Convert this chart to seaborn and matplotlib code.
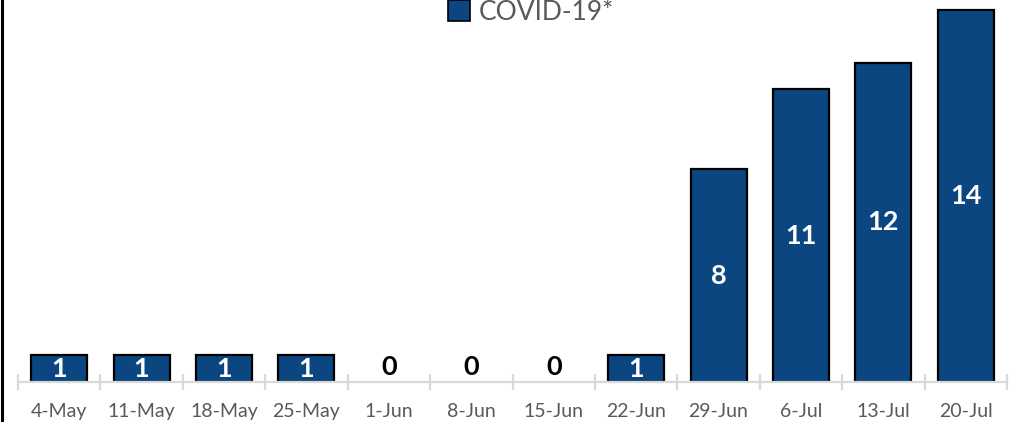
import matplotlib
matplotlib.use("Agg")
import matplotlib.pyplot as plt
from matplotlib.lines import Line2D
from matplotlib.patches import Patch
import seaborn as sns
import pandas as pd
import numpy as np

weeks = ["4-May", "11-May", "18-May", "25-May", "1-Jun", "8-Jun", "15-Jun",
         "22-Jun", "29-Jun", "6-Jul", "13-Jul", "20-Jul"]
covid_counts = [1, 1, 1, 1, 0, 0, 0, 1, 8, 11, 12, 14]
series_name = "COVID-19*"

BAR = "#0B4680"
GRID = "#D9D9D9"
TXT = "#595959"

sns.set_theme(style="white")
plt.rcParams["font.family"] = ["Lato", "DejaVu Sans"]

df = pd.DataFrame({"week": weeks, "count": covid_counts})

fig = plt.figure(figsize=(10.11, 4.22), dpi=100)
ax = fig.add_axes([18 / 1011, 40 / 422, (1007 - 18) / 1011, 382 / 422])

sns.barplot(data=df, x="week", y="count", color=BAR, edgecolor="black",
            linewidth=1.6, width=0.68, saturation=1, ax=ax, order=weeks)

ax.set_xlim(-0.5, len(weeks) - 0.5)
ax.set_ylim(0, 14.36)
ax.set_xlabel("")
ax.set_ylabel("")
ax.set_yticks([])

for s in ["top", "right", "left"]:
    ax.spines[s].set_visible(False)
ax.spines["bottom"].set_color(GRID)
ax.spines["bottom"].set_linewidth(1.6)

ax.tick_params(axis="x", which="major", bottom=True, length=0, pad=15,
               labelsize=14, labelcolor=TXT)
ax.set_xticks(np.arange(-0.5, len(weeks), 1.0), minor=True)
ax.tick_params(axis="x", which="minor", bottom=True, length=12,
               direction="inout", color=GRID, width=1.6)

cont = ax.containers[0]
for patch, v in zip(cont.patches, covid_counts):
    if v == 0:
        patch.set_linewidth(0)
        patch.set_facecolor("none")

inside = [str(v) if v > 0 else "" for v in covid_counts]
zeros = [str(v) if v == 0 else "" for v in covid_counts]
ax.bar_label(cont, labels=inside, label_type="center", color="white",
             fontsize=19.5, fontweight="bold")
ax.bar_label(cont, labels=zeros, label_type="edge", padding=2, color="black",
             fontsize=19.5, fontweight="bold")

handle = Patch(facecolor=BAR, edgecolor="black", linewidth=1.2)
fig.legend([handle], [series_name], loc="center", bbox_to_anchor=(0.525, 1 - 12 / 422),
           frameon=False, fontsize=19, labelcolor=TXT, handlelength=0.85,
           handleheight=0.85, handletextpad=0.3, borderpad=0)

fig.add_artist(Line2D([0.0015, 0.0015], [0, 1], transform=fig.transFigure,
                      color="black", linewidth=2.2))

fig.savefig("out.png", dpi=100)
